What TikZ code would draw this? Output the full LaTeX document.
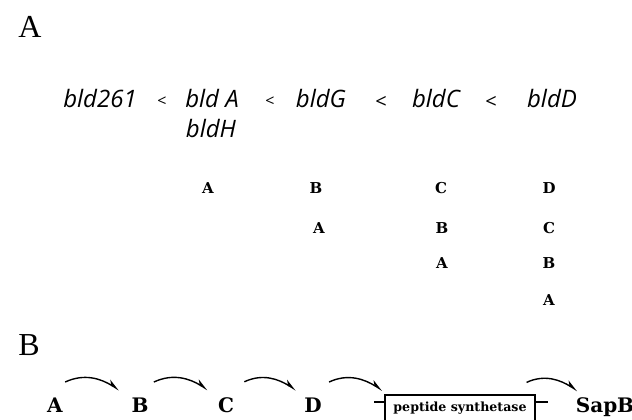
\documentclass[tikz,border=0pt]{standalone}
\usepackage{fontspec}
\setmainfont{Liberation Serif}
\newfontfamily\bldfont{Open Sans}
\newfontfamily\genefont{DejaVu Serif}
\usetikzlibrary{arrows.meta}

\tikzset{
  panel/.style={anchor=base west, inner sep=0pt, font=\fontsize{16}{18}\selectfont},
  mutant/.style={anchor=base, inner sep=0pt, font=\bldfont\itshape\fontsize{12}{14}\selectfont},
  less/.style={inner sep=0pt, font=\bldfont\fontsize{#1}{10}\selectfont},
  gene/.style={anchor=base, inner sep=0pt, font=\genefont\bfseries\fontsize{7.5}{8}\selectfont},
  path gene/.style={anchor=base, inner sep=0pt, font=\genefont\bfseries\fontsize{10}{11}\selectfont},
  link/.style={->, line width=0.7pt},
}

\begin{document}
\begin{tikzpicture}[x=0.5pt, y=-0.5pt, >={Stealth[harpoon, length=5.5pt, width=4pt]}]

  \useasboundingbox (0,0) rectangle (632,419);

  \node[panel] (panelA) at (18,37) {A};
  \node[panel] (panelB) at (18,355) {B};

  % order of the mutants
  \node[mutant] (bld261) at (100,107) {bld261};
  \node[less=8]  (lt1) at (162,102) {<};
  \node[mutant] (bldA) at (212,107) {bld A};
  \node[mutant] (bldH) at (211,137) {bldH};
  \node[less=8]  (lt2) at (270,102) {<};
  \node[mutant] (bldG) at (321,107) {bldG};
  \node[less=10] (lt3) at (381,102) {<};
  \node[mutant] (bldC) at (436,107) {bldC};
  \node[less=10] (lt4) at (491,102) {<};
  \node[mutant] (bldD) at (552,107) {bldD};

  % signals made by each class
  \node[gene] (A1) at (208,193) {A};
  \node[gene] (B1) at (316,193) {B};
  \node[gene] (C1) at (441,193) {C};
  \node[gene] (D1) at (549,193) {D};

  \node[gene] (A2) at (319,233) {A};
  \node[gene] (B2) at (442,233) {B};
  \node[gene] (C2) at (549,233) {C};

  \node[gene] (A3) at (442,268) {A};
  \node[gene] (B3) at (549,268) {B};

  \node[gene] (A4) at (549,305) {A};

  % cascade
  \node[path gene] (pA) at (55,412) {A};
  \node[path gene] (pB) at (140,412) {B};
  \node[path gene] (pC) at (226,412) {C};
  \node[path gene] (pD) at (313,412) {D};

  \node[draw, line width=0.6pt, minimum width=75pt, minimum height=13pt, inner sep=0pt,
        font=\genefont\bfseries\fontsize{6.3}{7}\selectfont] (ps) at (460,408) {peptide synthetase};
  \draw[line width=0.6pt] ([yshift=3pt]ps.west) -- ++(-10,0);
  \draw[line width=0.6pt] ([yshift=3pt]ps.east) -- ++(12,0);

  \node[anchor=base, inner sep=0pt, font=\genefont\bfseries\fontsize{10}{12}\selectfont] (SapB) at (605,412) {SapB};

  \draw[link] ([shift={(1pt,7.5pt)}]pA.north east) to[out=25, in=148] ([shift={(-6pt,3.5pt)}]pB.north west);
  \draw[link] ([shift={(2.5pt,7.5pt)}]pB.north east) to[out=25, in=148] ([shift={(-5pt,3.5pt)}]pC.north west);
  \draw[link] ([shift={(5pt,7.5pt)}]pC.north east) to[out=25, in=148] ([shift={(-4pt,3.5pt)}]pD.north west);
  \draw[link] ([shift={(3.5pt,7.5pt)}]pD.north east) to[out=25, in=148] ([shift={(-1pt,2pt)}]ps.north west);
  \draw[link] ([shift={(-4.5pt,6pt)}]ps.north east) to[out=25, in=148] ([shift={(1pt,3pt)}]SapB.north west);

\end{tikzpicture}
\end{document}
